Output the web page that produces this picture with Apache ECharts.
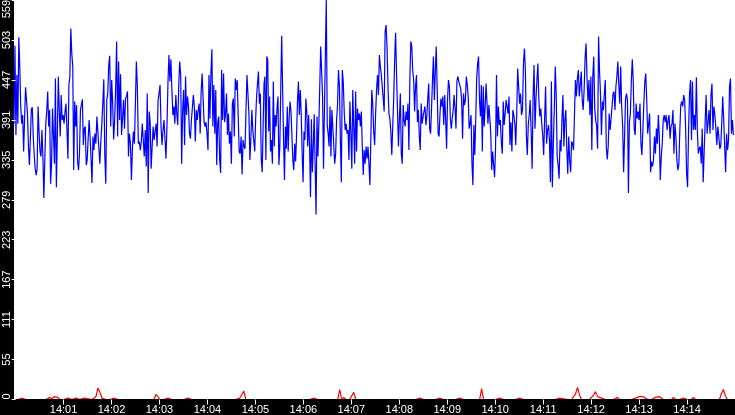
<!DOCTYPE html>
<html>
<head>
<meta charset="utf-8">
<script src="https://cdn.jsdelivr.net/npm/echarts@6/dist/echarts.min.js"></script>
<style>
html,body{margin:0;padding:0;background:#000;}
#chart{width:735px;height:415px;}
</style>
</head>
<body>
<div id="chart"></div>
<script>
// ---- data (seconds relative to 14:00:00) ----
const chunkStartSec = [-2, 98, 198, 298, 398, 498, 598, 698, 798];
const chunkSpanSec  = [100, 100, 100, 100, 100, 100, 100, 100, 101.25];

const blue1 = [386,495,370,454,386,507,466,410,386,398,347,393,437,435,400,354,328,365,406,409,368,342,323,314,323,410,375,347,340,377,340,282,337,386,404,431,382,405,302,330,407,370,330,449,297,368,452,405,368,426,391,398,386,403,414,377,337,440,452,519,484,466,321,417,382,412,333,321,344,405,405,420,356,379,382,328,335,365,391,368,337,303,368];
const blue2 = [349,372,358,396,398,396,330,361,386,414,448,342,302,419,428,468,481,382,447,414,364,391,435,501,368,473,391,455,370,393,419,379,421,424,431,340,372,358,307,351,375,358,412,473,438,358,361,349,361,386,388,340,377,326,428,289,403,388,323,354,382,363,375,386,354,419,428,440,382,356,377,391,393,337,382,442,482,445,476,433,398];
const blue3 = [410,386,426,400,384,440,473,454,330,403,433,356,452,398,424,410,372,365,391,391,426,410,361,405,391,405,414,372,431,456,454,388,382,388,372,349,454,393,456,490,382,440,372,433,328,388,396,335,317,461,391,456,388,400,428,370,400,358,375,330,414,421,368,449,433,447,396,347,344,368,315,363,354,351,405,454,454,400,335,365,405,377];
const blue4 = [377,347,393,424,442,459,414,428,337,318,379,442,452,335,480,475,375,424,347,363,330,445,354,398,382,407,424,328,354,435,509,435,365,307,382,351,410,347,393,417,403,370,335,321,358,333,370,417,445,398,433,400,347,304,375,363,421,403,354,398,354,283,392,318,354,399,326,259,396,340,386,440,494,459,424,323,405,484,559,384,372,354,410,340,405,382];
const blue5 = [382,330,344,391,412,461,438,361,304,461,445,403,377,386,372,377,335,417,372,323,433,382,330,431,347,407,391,400,382,403,354,314,349,330,354,337,354,330,300,365,433,414,375,356,400,433,454,426,482,466,454,452,421,403,515,524,494,438,400,393,375,342,340,421,474,513,456,405,354,393,428,344,330,412,391,382,403,391,414,349,449,501,494,461];
const blue6 = [447,403,438,454,388,405,368,349,414,386,396,398,410,384,396,421,442,379,372,407,447,480,419,459,494,435,372,368,400,421,410,424,384,426,393,351,419,447,438,393,379,393,405,426,407,379,445,452,445,447,435,419,365,428,412,419,452,440,424,379,386,398,330,300,384,342,391,449,470,480,419,396,440,347,438,382,410,442,440,386,412,393,372,321,347];
const blue7 = [347,311,349,454,368,410,384,391,361,344,417,384,400,419,421,400,424,356,388,347,405,398,386,356,400,463,438,414,428,398,405,470,491,461,370,342,384,398,419,375,323,424,468,379,421,447,470,419,396,407,386,370,342,393,438,358,377,384,363,304,445,297,356,405,466,428,340,328,309,363,347,393,426,354,391,405,351,316,368,335,318,361,358];
const blue8 = [349,400,447,424,449,461,424,440,459,419,405,433,479,498,449,417,447,398,452,349,452,480,407,391,382,351,508,459,428,370,417,405,428,447,354,336,354,400,377,393,410,428,431,405,438,452,473,440,414,466,410,382,318,368,421,428,419,289,388,400,445,476,445,379,370,414,393,403,391,414,358,342,377,414,445,456,419,372,370,400,318,333,326];
const blue9 = [335,368,344,379,358,398,368,307,340,358,391,398,388,398,377,391,398,365,382,386,405,344,386,368,335,321,328,375,412,417,410,426,419,379,316,297,377,428,447,363,445,377,398,377,451,375,344,351,354,330,379,304,347,388,426,372,388,405,372,426,442,377,410,398,379,356,382,368,351,354,386,424,393,354,318,372,349,363,438,449,372,391,370];
const blueChunks = [blue1, blue2, blue3, blue4, blue5, blue6, blue7, blue8, blue9];

// red series: one sample every 2.5 s starting at -2 s
const redStartSec = -2;
const redStepSec = 2.5;
const redVals = [
  0,0,0,0,2,0,0,0,0,0,0,0,0,2,0,0,0,0,3,0,
  4,2,3,0,0,0,0,2,0,0,0,2,0,0,0,2,0,1,0,0,
  0,4,16,10,2,0,0,0,0,0,2,0,0,0,0,0,0,0,0,0,
  0,0,0,0,0,0,0,0,0,0,0,7,4,0,2,0,0,2,0,0,
  2,0,0,0,0,0,0,2,0,0,0,0,0,0,0,0,0,0,0,0,
  2,0,0,0,0,0,0,0,0,0,0,0,0,2,0,12,0,0,0,0,
  0,0,0,0,0,2,0,0,0,0,0,0,0,2,0,0,0,0,0,0,
  0,0,0,2,0,0,0,0,0,0,2,0,0,0,0,0,0,0,0,0,
  0,0,0,14,0,3,0,0,0,0,10,0,0,0,2,0,0,0,0,0,
  2,0,0,0,0,0,0,0,0,0,2,0,0,0,0,0,0,0,0,0,
  0,0,0,2,0,0,0,0,0,0,0,0,0,2,0,0,0,0,0,0,
  0,0,0,2,0,0,0,0,0,0,0,0,0,0,15,0,0,0,0,0,
  0,0,0,2,0,0,0,0,0,0,0,0,0,2,0,0,0,0,0,0,
  2,0,0,0,0,0,0,0,2,0,0,0,0,2,0,1,0,0,0,0,
  0,8,17,6,0,0,0,0,0,0,6,11,4,2,2,0,0,2,0,0,
  0,0,3,0,0,0,0,0,2,0,0,2,0,4,4,4,3,0,0,0,
  0,3,2,4,3,0,0,0,0,0,3,0,0,0,0,2,0,0,0,0,
  3,0,0,0,0,0,0,0,0,0,0,0,0,0,8,14,5,0,0,0,
  0
];

const xMinSec = -2;
const xMaxSec = 900;
const xTickSec = [60,120,180,240,300,360,420,480,540,600,660,720,780,840];
const xTickLabels = ['14:01','14:02','14:03','14:04','14:05','14:06','14:07','14:08','14:09','14:10','14:11','14:12','14:13','14:14'];
const yTickLabels = ['0','55','111','167','223','279','335','391','447','503','559'];
const yMax = 559;

// ---- build ----
const blueData = [];
blueChunks.forEach((arr, k) => {
  const n = arr.length;
  arr.forEach((v, j) => {
    blueData.push([chunkStartSec[k] + j * chunkSpanSec[k] / n, v]);
  });
});
const redData = redVals.map((v, i) => [redStartSec + i * redStepSec, v]);

const chart = echarts.init(document.getElementById('chart'), null, {renderer: 'canvas'});
const yInterval = yMax / (yTickLabels.length - 1);
chart.setOption({
  animation: false,
  backgroundColor: '#000',
  grid: {
    left: 14, right: 0, top: 0, bottom: 15.5,
    show: true, backgroundColor: '#fff', borderWidth: 0,
    containLabel: false, outerBoundsMode: 'none'
  },
  graphic: [{
    type: 'rect', z: 100,
    shape: {x: 0, y: 399, width: 735, height: 16},
    style: {fill: '#000'}
  }],
  xAxis: {
    type: 'value',
    z: 200,
    min: xMinSec,
    max: xMaxSec,
    axisLine: {show: false},
    axisTick: {show: true, length: 5, customValues: xTickSec, lineStyle: {color: '#fff', width: 1}},
    splitLine: {show: false},
    axisLabel: {
      color: '#fff', fontSize: 11, fontFamily: 'Liberation Sans', margin: 5,
      hideOverlap: false,
      customValues: xTickSec,
      formatter: function (v) {
        const i = xTickSec.indexOf(Math.round(v));
        return i >= 0 ? xTickLabels[i] : '';
      }
    }
  },
  yAxis: {
    type: 'value',
    z: 200,
    min: 0, max: yMax, interval: yInterval,
    axisLine: {show: false},
    axisTick: {show: true, length: 4, lineStyle: {color: '#fff', width: 1}},
    splitLine: {show: false},
    axisLabel: {
      rotate: 90, color: '#fff', fontSize: 11, fontFamily: 'Liberation Sans', margin: 2,
      alignMinLabel: 'left', alignMaxLabel: 'right',
      formatter: function (v) { return yTickLabels[Math.round(v / yInterval)]; }
    }
  },
  series: [
    {type: 'line', data: redData, showSymbol: false, symbol: 'none',
     lineStyle: {color: '#ff0000', width: 1.2}, itemStyle: {color: '#ff0000'}, z: 2},
    {type: 'line', data: blueData, showSymbol: false, symbol: 'none',
     lineStyle: {color: '#0000ff', width: 1.2}, itemStyle: {color: '#0000ff'}, z: 3}
  ]
});
</script>
</body>
</html>
